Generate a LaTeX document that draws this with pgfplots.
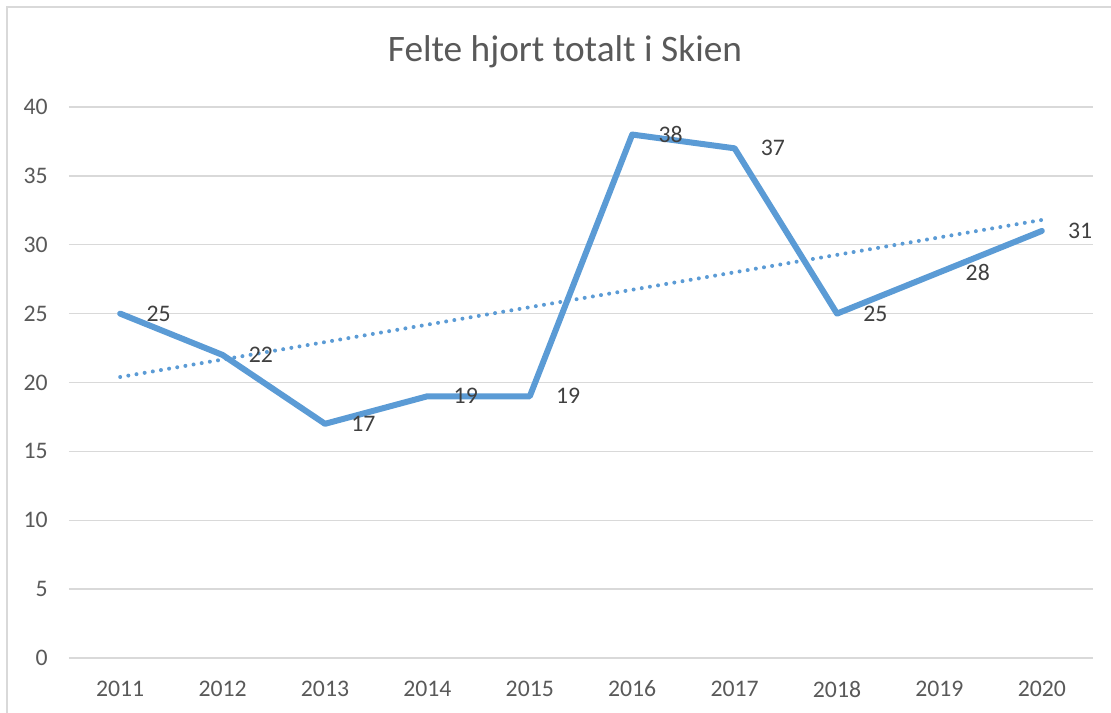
\documentclass[border=0pt]{standalone}
\usepackage{fontspec}
\setmainfont{Carlito}
\usepackage{pgfplots}
\pgfplotsset{compat=1.18}
\definecolor{lineblue}{HTML}{5B9BD5}
\definecolor{gridgray}{HTML}{D9D9D9}
\definecolor{ticktext}{HTML}{595959}
\definecolor{labeltext}{HTML}{404040}
\begin{document}
\begin{tikzpicture}
\path[use as bounding box] (-51.75pt,-41.25pt) rectangle (781.5pt,493.5pt);
\draw[gridgray, line width=1pt] (-46.5pt,-41.25pt) -- (-46.5pt,488.25pt) -- (781.5pt,488.25pt);
\begin{axis}[
  at={(0,0)}, anchor=south west,
  scale only axis,
  width=768pt, height=413.25pt,
  xmin=-0.5, xmax=9.5,
  ymin=0, ymax=40,
  xtick={0,...,9},
  xticklabels={2011,2012,2013,2014,2015,2016,2017,2018,2019,2020},
  ytick={0,5,...,40},
  ymajorgrids,
  grid style={gridgray, line width=1pt},
  axis line style={draw=none},
  major tick length=0pt,
  /pgf/number format/assume math mode=true,
  tick label style={font=\fontsize{17.8}{20}\selectfont, text=ticktext},
  yticklabel style={anchor=east, inner sep=0pt, xshift=-15.75pt},
  xticklabel style={anchor=north, inner sep=0pt, yshift=-17pt},
  clip=false,
  title={Felte hjort totalt i Skien},
  title style={at={(372pt,449pt)}, anchor=center, font=\fontsize{28}{32}\selectfont, text=ticktext, inner sep=0pt},
]
\addplot[lineblue, line width=3pt, line cap=round, dash pattern=on 0pt off 6.2pt, forget plot]
  coordinates {(0,20.4) (9,31.8)};
\addplot[lineblue, line width=4.5pt, line join=round, line cap=round, mark=none,
  nodes near coords,
  every node near coord/.append style={anchor=west, inner sep=0pt, xshift=17.5pt,
    font=\fontsize{17.8}{20}\selectfont, text=labeltext}]
  coordinates {(0,25) (1,22) (2,17) (3,19) (4,19) (5,38) (6,37) (7,25) (8,28) (9,31)};
\end{axis}
\end{tikzpicture}
\end{document}
